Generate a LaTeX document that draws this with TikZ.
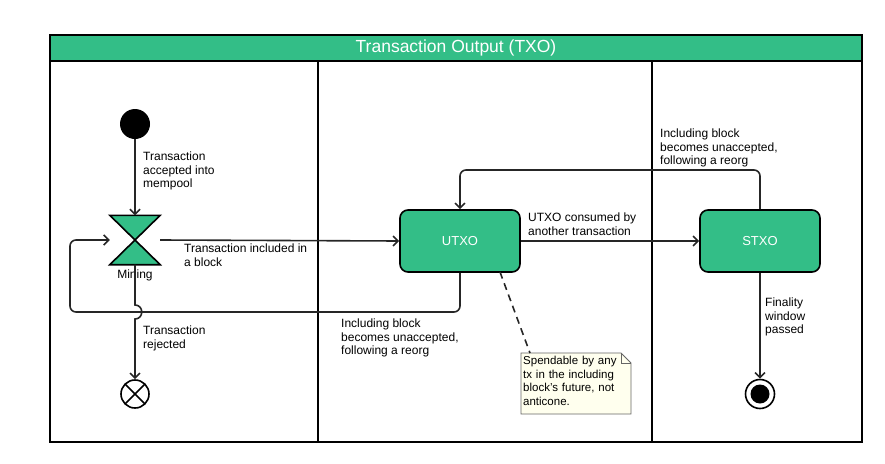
\documentclass[tikz,border=0pt]{standalone}
\usepackage{fontspec}
\setmainfont{Liberation Sans}
\usetikzlibrary{arrows.meta}
\definecolor{txgreen}{HTML}{33BE87}
\definecolor{notefill}{HTML}{FFFFEE}
\definecolor{notegray}{HTML}{666666}
\begin{document}
\begin{tikzpicture}[x=1pt,y=-1pt,
  lbl/.style={font=\fontsize{12}{13.5}\selectfont, align=left, anchor=north west, inner sep=0pt},
  statebox/.style={draw, line width=1.6pt, fill=txgreen, rounded corners=8pt, minimum width=120pt, minimum height=62pt, text=white, font=\fontsize{13}{15}\selectfont},
  conn/.style={line width=1.6pt, draw=black!85, -{Straight Barb[length=5pt,width=10pt,line width=1.6pt]}},
]
\useasboundingbox (0,0) rectangle (885,463);
% frame
\fill[txgreen] (50,35) rectangle (862,61);
\node[text=white, font=\fontsize{17.5}{19}\selectfont] (title) at (456,48) {Transaction Output (TXO)};
\draw[line width=2pt] (50,35) rectangle (862,442);
\draw[line width=2pt] (50,61) -- (862,61);
\draw[line width=2pt] (318,61) -- (318,442);
\draw[line width=2pt] (652,61) -- (652,442);

% start
\node[circle, fill=black, minimum size=30pt, inner sep=0pt] (start) at (135,124) {};
% mining
\node[minimum width=50pt, minimum height=49pt, inner sep=0pt] (mining) at (135,240) {};
\draw[fill=txgreen, line width=1.6pt] (mining.north west) -- (mining.north east) -- (mining.center) -- cycle;
\draw[fill=txgreen, line width=1.6pt] (mining.center) -- (mining.south west) -- (mining.south east) -- cycle;
\node[font=\fontsize{12}{13}\selectfont, inner sep=0pt] (mininglbl) at (135,275) {Mining};
% reject end
\node[circle, draw, line width=1.6pt, minimum size=28pt, inner sep=0pt] (reject) at (135,394) {};
\draw[line width=1.6pt] ([shift={(45:14pt)}]reject.center) -- ([shift={(225:14pt)}]reject.center)
  ([shift={(135:14pt)}]reject.center) -- ([shift={(-45:14pt)}]reject.center);
% states
\node[statebox] (utxo) at (460,241) {UTXO};
\node[statebox] (stxo) at (760,241) {STXO};
% final
\node[circle, draw, line width=1.6pt, fill=white, minimum size=29pt, inner sep=0pt] (final) at (760,394) {};
\node[circle, fill=black, minimum size=19pt, inner sep=0pt] (finalin) at (760,394) {};
% note
\draw[draw=notegray, fill=notefill, line width=0.8pt] (521,353) -- (621,353) -- (631,363) -- (631,414) -- (521,414) -- cycle;
\draw[draw=notegray, line width=0.8pt] (621,353) -- (621,363) -- (631,363);
\node[lbl, font=\fontsize{11.5}{13.5}\selectfont, text width=110pt] (note) at (523,356) {Spendable by any\\tx in the including\\block's future, not\\anticone.};
\coordinate (noteTop) at (530,353);

% connectors
\draw[conn] (start) -- (mining.north);
\node[lbl] at (143,152) {Transaction\\accepted into\\mempool};
\draw[conn] (mining.east) -- (utxo.west);
\node[lbl] at (184,244) {Transaction included in\\a block};
\draw[conn] (utxo.east) -- (stxo.west);
\node[lbl] at (528,213) {UTXO consumed by\\another transaction};
\draw[conn, rounded corners=6pt] (stxo.north) -- (760,170) -- (460,170) -- (utxo.north);
\node[lbl] at (660,129) {Including block\\becomes unaccepted,\\following a reorg};
\draw[conn, rounded corners=6pt] (utxo.south) -- (460,312) -- (70,312) -- (70,240) -- (mining.west);
\node[lbl] at (341,319) {Including block\\becomes unaccepted,\\following a reorg};
\draw[conn] (mining.south) -- (135,305) .. controls (144,305) and (144,319) .. (135,319) -- (reject.north);
\node[lbl] at (143,326) {Transaction\\rejected};
\draw[conn] (stxo.south) -- (final.north);
\node[lbl] at (765,298) {Finality\\window\\passed};
\draw[line width=1.6pt, dash pattern=on 7pt off 5pt, draw=black!85] (500,272) -- (noteTop);
\end{tikzpicture}
\end{document}
